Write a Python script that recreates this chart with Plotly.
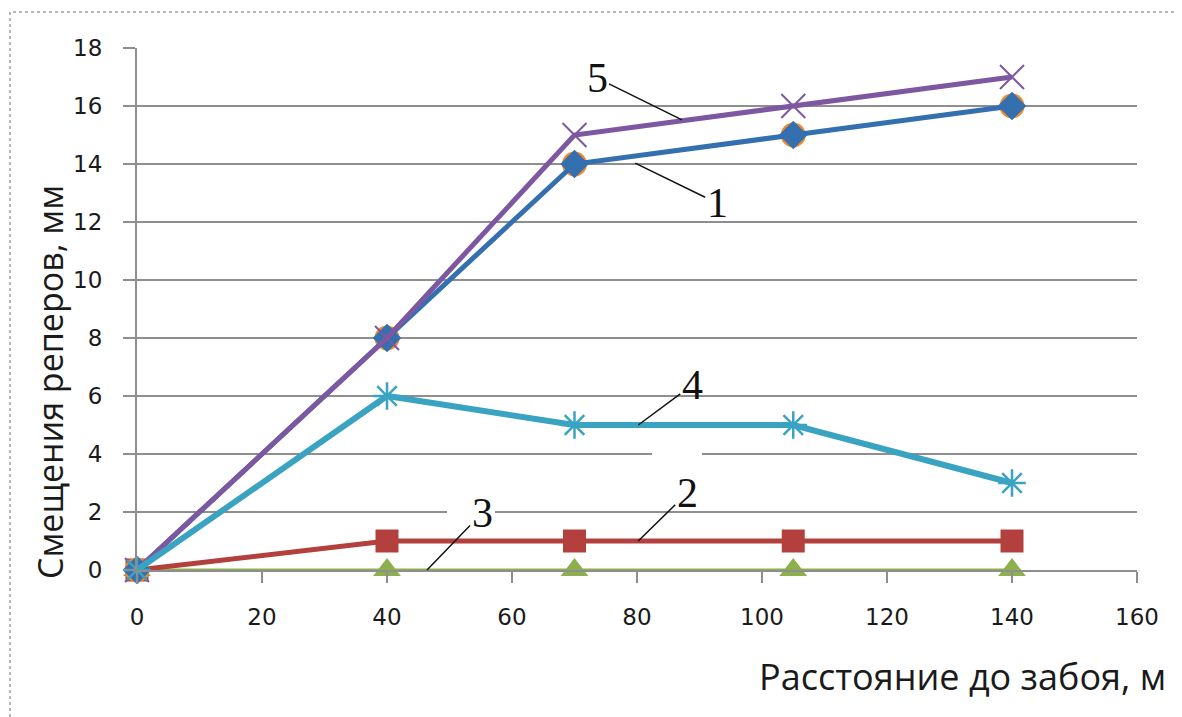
import plotly.graph_objects as go

# ---- data ----
distance_m = [0, 40, 70, 105, 140]
series_1 = [0, 8, 14, 15, 16]       # blue diamonds
series_1b = [0, 8, 14, 15, 16]      # orange circles (under series 1)
series_2 = [0, 1, 1, 1, 1]          # red squares
series_3 = [0, 0, 0, 0, 0]          # green triangles
series_4 = [0, 6, 5, 5, 3]          # aqua asterisks
series_5 = [0, 8, 15, 16, 17]       # purple crosses

x_ticks = [0, 20, 40, 60, 80, 100, 120, 140, 160]
y_ticks = [0, 2, 4, 6, 8, 10, 12, 14, 16, 18]

x_title = "Расстояние до забоя, м"
y_title = "Смещения реперов, мм"

# curve labels: (label, x, y of leader tip, text offset px)
labels = [
    ("5", 87.2, 15.52, -85, -42),
    ("1", 79.7, 14.03, 82, 40),
    ("4", 80.2, 5.0, 54, -40),
    ("2", 80.2, 1.0, 49, -48),
    ("3", 46.4, 0.0, 55, -57),
]

fig = go.Figure()

def add(y, color, width, symbol, msize, mline=0, mcolor=None):
    fig.add_trace(go.Scatter(
        x=distance_m, y=y, mode="lines+markers",
        line=dict(color=color, width=width),
        marker=dict(symbol=symbol, size=msize,
                    color=mcolor or color,
                    line=dict(color=mcolor or color, width=mline)),
        cliponaxis=False, showlegend=False, hoverinfo="skip"))

add(series_3, "#8db04c", 3, "triangle-up", 24)
add(series_2, "#b4403d", 5, "square", 23)
add(series_1b, "#f08a2c", 0.1, "circle", 25)
add(series_1, "#3470b0", 5, "diamond", 22)
add(series_5, "#7d58a0", 5, "x-thin-open", 24, 2)
add(series_4, "#3aa3c2", 6, "asterisk-open", 23, 2.5)

grid = "#8e8e8e"
tickfont = dict(family="DejaVu Sans", size=23, color="#1a1a1a")
fig.update_xaxes(range=[0, 160], tickvals=x_ticks, ticks="outside", ticklen=11,
                 tickcolor=grid, tickwidth=2, showgrid=False, showline=True,
                 linecolor=grid, linewidth=2, zeroline=False,
                 tickfont=tickfont, ticklabelstandoff=14)
fig.update_yaxes(range=[0, 18], tickvals=y_ticks, ticks="outside", ticklen=12,
                 tickcolor=grid, tickwidth=2, showgrid=True, gridcolor=grid,
                 gridwidth=2, showline=True, linecolor=grid, linewidth=2,
                 zeroline=False, tickfont=tickfont, ticklabelstandoff=16)

# page has an 8px body offset; plot area targets (137..1137, 48..570) on screen
OFF = 8
PL, PR, PT, PB = 137, 1137, 48, 570
PW, PH = PR - PL, PB - PT

def px(x):
    return (x - PL) / PW

def py(y):
    return (PB - y) / PH

shapes = [dict(type="rect", xref="paper", yref="paper",
               x0=px(10), x1=px(1200), y0=py(740), y1=py(12),
               line=dict(color="#a0a0a0", width=1.5, dash="dot"))]
# white gaps in gridlines behind the label text boxes
for gx0, gx1, gy in [(562, 608, 48), (652, 702, 454), (447, 495, 512)]:
    shapes.append(dict(type="rect", xref="paper", yref="paper", layer="above",
                       x0=px(gx0), x1=px(gx1), y0=py(gy + 6), y1=py(gy - 6),
                       fillcolor="white", line=dict(width=0)))

annotations = []
for txt, lx, ly, ax, ay in labels:
    annotations.append(dict(
        x=lx, y=ly, xref="x", yref="y", text=txt, showarrow=True,
        arrowhead=0, arrowwidth=1.5, arrowcolor="#111", ax=ax, ay=ay,
        font=dict(family="Liberation Serif", size=42, color="#111")))
annotations.append(dict(
    xref="paper", yref="paper", x=px(962), y=py(676), xanchor="center",
    yanchor="middle", text=x_title, showarrow=False,
    font=dict(family="Open Sans", size=36, color="#1a1a1a")))
annotations.append(dict(
    xref="paper", yref="paper", x=px(50), y=py(382), xanchor="center",
    yanchor="middle", text=y_title, textangle=-90, showarrow=False,
    font=dict(family="Open Sans", size=34, color="#1a1a1a")))

fig.update_layout(
    width=1182, height=717,
    margin=dict(l=PL - OFF, r=1182 - PR + OFF, t=PT - OFF, b=717 - PB + OFF),
    plot_bgcolor="white", paper_bgcolor="white",
    annotations=annotations,
    shapes=shapes,
)

fig.write_html("out.html")
